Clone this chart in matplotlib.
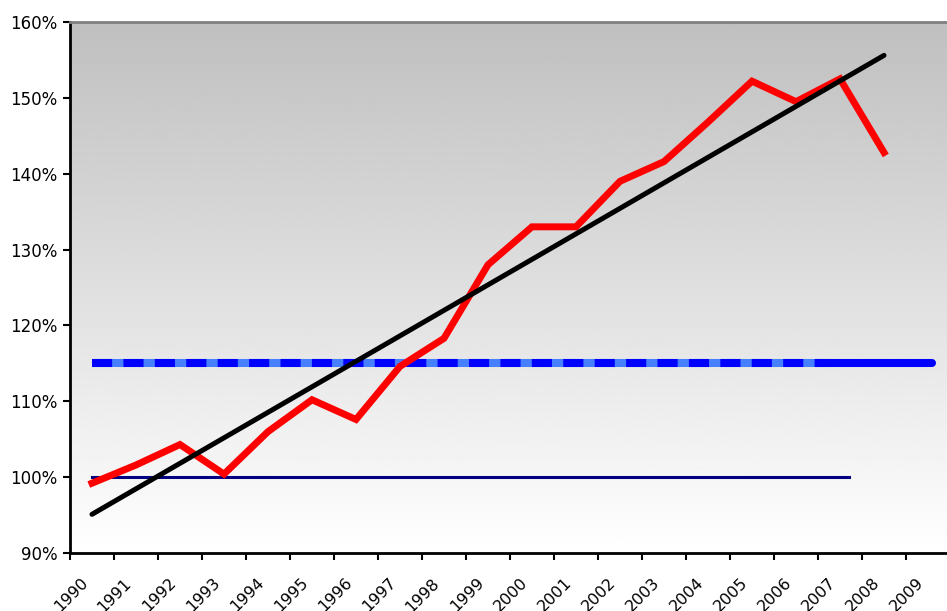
import matplotlib.pyplot as plt
from matplotlib.transforms import ScaledTranslation
import numpy as np

plt.rcParams['font.family'] = ['DejaVu Sans']

years = [str(y) for y in range(1990, 2010)]
# red series, one value per year 1990-2008 (percent)
actual = [99.2, 101.6, 104.3, 100.4, 106.0, 110.2, 107.6, 114.6, 118.3, 128.0,
          133.0, 133.0, 139.0, 141.6, 146.8, 152.2, 149.5, 152.5, 142.8]
# linear trend end points (1990, 2008)
trend_x = [0, 18]
trend_y = [95.1, 155.6]
# reference levels
target_level = 115
target_x = [0, 19.1]
base_level = 100
base_x = [0, 17.2]

W, H = 947, 611
fig = plt.figure(figsize=(W / 100, H / 100), dpi=100)
ax = fig.add_axes([70 / W, 58 / H, 880 / W, 531 / H])

# category axis: centers at i + 0.5
cx = lambda xs: np.asarray(xs, dtype=float) + 0.5

ax.set_xlim(0, 20)
ax.set_ylim(90, 160)

# gradient background
grad = np.linspace(0, 1, 256).reshape(-1, 1)
ax.imshow(grad, extent=[0, 20, 90, 160], aspect='auto', cmap='gray',
          vmin=-3.0, vmax=1.0, origin='upper', zorder=0)

# target line: light blue base with dark blue dashes, solid at the end
ax.plot(cx([0, 16.7]), [target_level] * 2, color='#4680ff', lw=5.8,
        solid_capstyle='butt', zorder=2)
ax.plot(cx([0, 16.7]), [target_level] * 2, color='#0000ff', lw=5.8,
        dashes=(2.5, 1.4), dash_capstyle='butt', zorder=3)
ax.plot(cx([16.7, target_x[1]]), [target_level] * 2, color='#0000ff', lw=5.8,
        solid_capstyle='round', zorder=3)

ax.plot(cx(base_x), [base_level] * 2, color='#000080', lw=2.2, zorder=3)

ax.plot(cx(range(len(actual))), actual, color='#ff0000', lw=5.0,
        solid_joinstyle='miter', zorder=4)
ax.plot(cx(trend_x), trend_y, color='black', lw=3.6, solid_capstyle='round',
        zorder=5)

ax.set_yticks(range(90, 161, 10))
ax.set_yticklabels([f'{v}%' for v in range(90, 161, 10)], fontsize=12)
ax.set_xticks(range(0, 21))
ax.set_xticklabels([])
ax.set_xticks(cx(range(20)), minor=True)
ax.set_xticklabels(years, minor=True, rotation=45, ha='right', va='top',
                   rotation_mode='anchor', fontsize=11.5)
ax.tick_params(axis='x', which='minor', length=0, pad=16)
ax.tick_params(axis='x', which='major', length=5, width=1.5, direction='out')
ax.tick_params(axis='y', length=5, width=1.5, direction='out', pad=4)
shift = ScaledTranslation(-12 / 100, 0, fig.dpi_scale_trans)
for lab in ax.get_xticklabels(minor=True):
    lab.set_transform(lab.get_transform() + shift)

for s in ['left', 'bottom']:
    ax.spines[s].set_linewidth(2.0)
    ax.spines[s].set_color('black')
ax.spines['top'].set_color('#808080')
ax.spines['top'].set_linewidth(2.0)
ax.spines['right'].set_visible(False)

fig.savefig('out.png', dpi=100)
